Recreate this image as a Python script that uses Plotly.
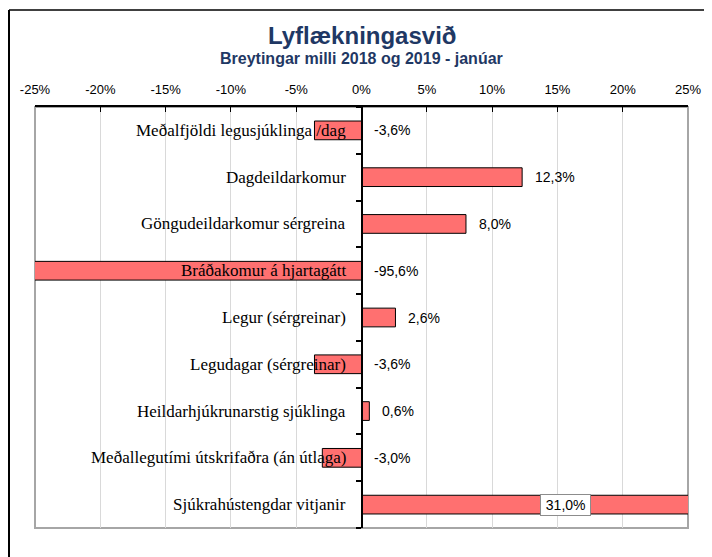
import plotly.graph_objects as go

# --- data
categories = [
    "Meðalfjöldi legusjúklinga /dag",
    "Dagdeildarkomur",
    "Göngudeildarkomur sérgreina",
    "Bráðakomur á hjartagátt",
    "Legur (sérgreinar)",
    "Legudagar (sérgreinar)",
    "Heildarhjúkrunarstig sjúklinga",
    "Meðallegutími útskrifaðra (án útlaga)",
    "Sjúkrahústengdar vitjanir",
]
changes = [-3.6, 12.3, 8.0, -95.6, 2.6, -3.6, 0.6, -3.0, 31.0]
x_ticks = [-25, -20, -15, -10, -5, 0, 5, 10, 15, 20, 25]

title = "Lyflækningasvið"
subtitle = "Breytingar milli 2018 og 2019 - janúar"

X_MIN, X_MAX = -25, 25
NAVY = "#1F3864"
BAR = "#FF7070"

# the page body adds an 8px margin, so the figure is 8px smaller than the window
W, H = 704, 549
M = dict(l=27, r=24, t=99, b=29)
PW = W - M["l"] - M["r"]
PH = H - M["t"] - M["b"]


def fmt(v):
    return f"{v:.1f}".replace(".", ",") + "%"


rows = list(range(len(categories)))

fig = go.Figure()
fig.add_trace(
    go.Bar(
        x=changes,
        y=rows,
        orientation="h",
        width=0.4,
        marker=dict(color=BAR, line=dict(color="black", width=1)),
        hoverinfo="skip",
        showlegend=False,
    )
)

annotations = []
# --- category labels, right-aligned just left of the zero line
for i, cat in enumerate(categories):
    annotations.append(dict(
        x=0, y=i, xref="x", yref="y", text=cat, showarrow=False,
        xanchor="right", xshift=-14,
        font=dict(family="Liberation Serif", size=17, color="black"),
    ))

# --- value labels
for i, v in enumerate(changes):
    lab = dict(y=i, xref="x", yref="y", text=fmt(v), showarrow=False,
               font=dict(family="Liberation Sans", size=14, color="black"))
    if v > X_MAX:
        lab.update(x=X_MAX, xanchor="right", xshift=-97, bgcolor="white",
                   text="&#8201;" + fmt(v) + "&#8201;",
                   bordercolor="#8c8c8c", borderwidth=1, borderpad=2)
    elif v < 0:
        lab.update(x=0, xanchor="left", xshift=10)
    else:
        lab.update(x=v, xanchor="left", xshift=11)
    annotations.append(lab)

# --- titles
annotations.append(dict(
    x=0.5, y=1, xref="paper", yref="paper", text=f"<b>{title}</b>",
    showarrow=False, yanchor="middle", yshift=72,
    font=dict(family="Liberation Sans", size=24, color=NAVY),
))
annotations.append(dict(
    x=0.5, y=1, xref="paper", yref="paper", text=f"<b>{subtitle}</b>",
    showarrow=False, yanchor="middle", yshift=49,
    font=dict(family="Liberation Sans", size=16, color=NAVY),
))

shapes = [
    # plot-area frame
    dict(type="rect", xref="paper", yref="paper", x0=0, x1=1, y0=0, y1=1,
         line=dict(color="#a6a6a6", width=2), layer="below"),
]

# outer chart frame (only top and left edges are in view)
fx = (1 - M["l"]) / PW
fy = 1 + (M["t"] - 2) / PH
shapes.append(dict(type="line", xref="paper", yref="paper", x0=fx, x1=1.2,
                   y0=fy, y1=fy, line=dict(color="#404040", width=2)))
shapes.append(dict(type="line", xref="paper", yref="paper", x0=fx, x1=fx,
                   y0=fy, y1=-0.2, line=dict(color="black", width=2)))

fig.update_layout(
    width=W,
    height=H,
    margin=M,
    paper_bgcolor="white",
    plot_bgcolor="white",
    annotations=annotations,
    shapes=shapes,
    xaxis=dict(
        side="top",
        range=[X_MIN, X_MAX],
        tickvals=x_ticks,
        ticktext=[f"{t}%" for t in x_ticks],
        showgrid=True,
        gridcolor="#d9d9d9",
        gridwidth=1,
        zeroline=False,
        showline=True,
        linecolor="black",
        linewidth=1.5,
        ticks="inside",
        ticklen=5,
        tickcolor="black",
        ticklabelstandoff=6,
        tickfont=dict(family="Liberation Sans", size=13, color="black"),
        fixedrange=True,
    ),
    yaxis=dict(
        range=[len(categories) - 0.5, -0.5],
        anchor="free",
        position=0.5,
        showline=True,
        linecolor="black",
        linewidth=2,
        showgrid=False,
        zeroline=False,
        tickvals=[i - 0.5 for i in range(len(categories) + 1)],
        ticks="outside",
        ticklen=5,
        tickcolor="black",
        tickwidth=2,
        showticklabels=False,
        fixedrange=True,
    ),
)

fig.write_html("out.html")
